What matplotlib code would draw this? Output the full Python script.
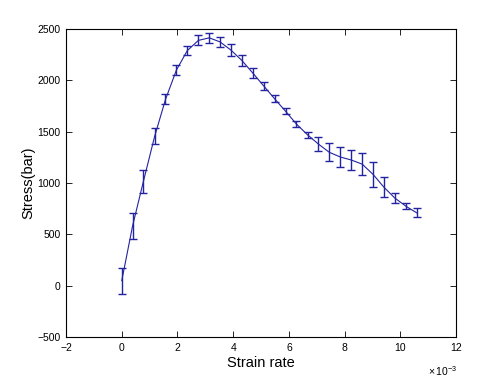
import numpy as np
import matplotlib
matplotlib.use("Agg")
import matplotlib.pyplot as plt
from matplotlib.ticker import ScalarFormatter

# strain rate (s^-1) and mean stress (bar) with error half-widths
strain_rate = [0.00, 0.39, 0.78, 1.18, 1.57, 1.96, 2.35, 2.75, 3.14, 3.53,
               3.92, 4.31, 4.71, 5.10, 5.49, 5.88, 6.27, 6.67, 7.06, 7.45,
               7.84, 8.24, 8.63, 9.02, 9.41, 9.80, 10.20, 10.59]
stress = [50, 585, 1020, 1455, 1815, 2100, 2290, 2390, 2415, 2375,
          2295, 2195, 2070, 1945, 1820, 1700, 1575, 1470, 1380, 1300,
          1255, 1225, 1185, 1085, 960, 855, 775, 710]
stress_err = [127, 127, 112, 78, 49, 49, 44, 49, 49, 49,
              58, 54, 49, 39, 34, 29, 29, 29, 68, 88,
              93, 97, 107, 122, 97, 49, 29, 44]

x = np.array(strain_rate) * 1e-3
color = "#2323a0"

plt.rcParams["font.family"] = ["Liberation Sans", "DejaVu Sans"]
plt.rcParams["mathtext.fontset"] = "custom"
plt.rcParams["mathtext.rm"] = "Liberation Sans"

fig = plt.figure(figsize=(5.04, 3.78), dpi=100)
ax = fig.add_axes([0.131, 0.108, 0.774, 0.815])

ax.errorbar(x, stress, yerr=stress_err, color=color, lw=0.8,
            elinewidth=1.0, capsize=3, capthick=1.0)

ax.set_xlim(-0.002, 0.012)
ax.set_ylim(-500, 2500)
ax.set_xticks(np.arange(-0.002, 0.0121, 0.002))
ax.set_yticks(np.arange(-500, 2501, 500))

# labels shown in units of 1e-3, exponent written at the bottom right
fmt = ScalarFormatter()
fmt.set_powerlimits((-3, -3))
ax.xaxis.set_major_formatter(fmt)
ax.xaxis.get_offset_text().set_visible(False)
fig.text(0.849, 0.018, r"$\times\,10^{-3}$", fontsize=7.5, va="center")

ax.tick_params(direction="in", length=4, width=0.6, labelsize=7.5,
               top=True, right=True, pad=4)
for s in ax.spines.values():
    s.set_linewidth(0.8)

ax.set_xlabel("Strain rate", fontsize=10.5, labelpad=2)
ax.set_ylabel("Stress(bar)", fontsize=10.5, labelpad=1)

fig.savefig("out.png", dpi=100)
